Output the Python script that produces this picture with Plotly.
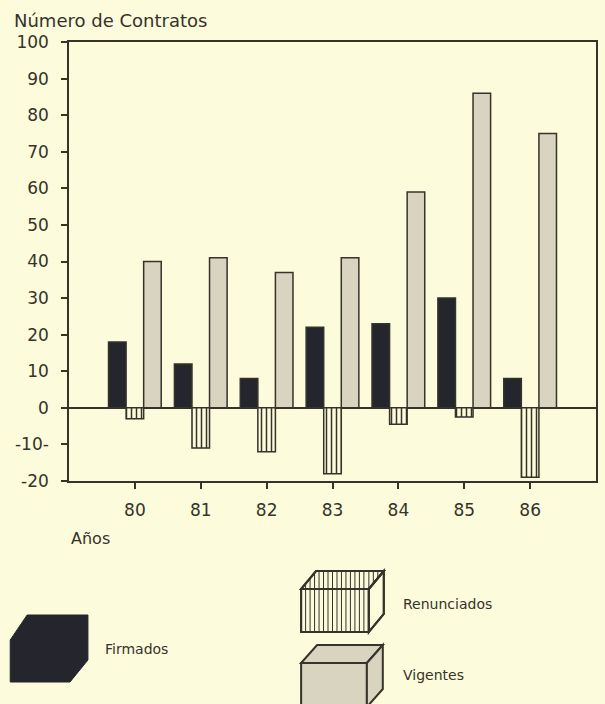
import plotly.graph_objects as go

# ---- data -------------------------------------------------------------
years = [80, 81, 82, 83, 84, 85, 86]
firmados = [18, 12, 8, 22, 23, 30, 8]
renunciados = [-3, -11, -12, -18, -4.5, -2.5, -19]
vigentes = [40, 41, 37, 41, 59, 86, 75]

y_tick_vals = [100, 90, 80, 70, 60, 50, 40, 30, 20, 10, 0, -10, -20]
y_tick_text = ["100", "90", "80", "70", "60", "50", "40", "30", "20", "10", "0", "-10-", "-20"]

series_names = ["Firmados", "Renunciados", "Vigentes"]

# ---- style ------------------------------------------------------------
W, H = 605, 704
M_L, M_R, M_T, M_B = 69, 7, 42, 223
BG = "#fcfbdc"
INK = "#35332a"
DARK = "#24252d"
GREY = "#d8d4bf"
FONT = "DejaVu Sans"

PLOT_W = W - M_L - M_R
PLOT_H = H - M_T - M_B


def px(x):
    """pixel x -> paper x"""
    return (x - M_L) / PLOT_W


def py(y):
    """pixel y -> paper y"""
    return (H - M_B - y) / PLOT_H


fig = go.Figure()

outline = dict(color=INK, width=1.5)

fig.add_trace(go.Bar(
    x=years, y=firmados, name=series_names[0],
    marker=dict(color=DARK, line=outline),
))
fig.add_trace(go.Bar(
    x=years, y=renunciados, name=series_names[1],
    marker=dict(color=BG, line=outline,
                pattern=dict(shape="|", size=5, solidity=0.3,
                             fgcolor=INK, bgcolor=BG, fillmode="replace")),
))
fig.add_trace(go.Bar(
    x=years, y=vigentes, name=series_names[2],
    marker=dict(color=GREY, line=outline),
))

fig.update_layout(
    width=W, height=H,
    margin=dict(l=M_L, r=M_R, t=M_T, b=M_B),
    paper_bgcolor=BG, plot_bgcolor=BG,
    barmode="group", bargap=0.2, bargroupgap=0,
    showlegend=False,
    font=dict(family=FONT, color=INK, size=17),
)

fig.update_xaxes(
    range=[79, 87], tickvals=years, ticktext=[str(v) for v in years],
    showgrid=False, zeroline=False,
    showline=True, linecolor=INK, linewidth=1.5, mirror=True,
    ticks="outside", ticklen=6, tickwidth=1.5, tickcolor=INK,
    ticklabelstandoff=7,
    tickfont=dict(family=FONT, size=17, color=INK),
)
fig.update_yaxes(
    range=[-20, 100], tickvals=y_tick_vals, ticktext=y_tick_text,
    showgrid=False,
    zeroline=True, zerolinecolor=INK, zerolinewidth=1.5,
    showline=True, linecolor=INK, linewidth=1.5, mirror=True,
    ticks="outside", ticklen=6, tickwidth=1.5, tickcolor=INK,
    ticklabelstandoff=9,
    tickfont=dict(family=FONT, size=17, color=INK),
)

# ---- axis titles ------------------------------------------------------
fig.add_annotation(text="Número de Contratos", xref="paper", yref="paper",
                   x=px(12), y=py(21), xanchor="left", yanchor="middle",
                   showarrow=False, font=dict(family=FONT, size=18, color=INK))
fig.add_annotation(text="Años", xref="paper", yref="paper",
                   x=px(69), y=py(538), xanchor="left", yanchor="middle",
                   showarrow=False, font=dict(family=FONT, size=16, color=INK))


# ---- box-shaped key ---------------------------------------------------
def poly(points):
    pts = [f"{px(x):.5f},{py(y):.5f}" for x, y in points]
    return "M " + " L ".join(pts) + " Z"


def add_box(x0, y0, w, h, dx, dy, fill, line_w=2.0):
    """3D box: front face at (x0, y0, w, h), depth offset (dx, -dy)."""
    front = [(x0, y0), (x0 + w, y0), (x0 + w, y0 + h), (x0, y0 + h)]
    top = [(x0, y0), (x0 + dx, y0 - dy), (x0 + w + dx, y0 - dy), (x0 + w, y0)]
    side = [(x0 + w, y0), (x0 + w + dx, y0 - dy), (x0 + w + dx, y0 + h - dy), (x0 + w, y0 + h)]
    for face in (front, top, side):
        fig.add_shape(type="path", path=poly(face), xref="paper", yref="paper",
                      fillcolor=fill, line=dict(color=INK, width=line_w), layer="above")


# Firmados: solid dark block
fig.add_shape(type="path",
              path=poly([(27, 615), (88, 615), (88, 660), (70, 682), (10, 682), (10, 640)]),
              xref="paper", yref="paper", fillcolor=DARK,
              line=dict(color=DARK, width=1), layer="above")

# Renunciados: striped box
rx0, ry0, rw, rh, rdx, rdy = 302, 589, 68, 43, 15, 18
add_box(rx0, ry0, rw, rh, rdx, rdy, BG)
stripe_paths = []
x = rx0 + 4.5
while x < rx0 + rw - 1:
    stripe_paths.append(f"M {px(x):.5f},{py(ry0 + rh):.5f} L {px(x):.5f},{py(ry0):.5f}")
    # continue the stripe over the top face
    top_end = ry0 - rdy if x >= rx0 + rdx else ry0 - (x - rx0) * rdy / rdx
    stripe_paths.append(f"M {px(x):.5f},{py(ry0):.5f} L {px(x):.5f},{py(top_end):.5f}")
    x += 4.5
x = rx0 + rw
while x < rx0 + rw + rdx - 1:
    low = ry0 - (x - rx0 - rw) * rdy / rdx
    stripe_paths.append(f"M {px(x):.5f},{py(low):.5f} L {px(x):.5f},{py(ry0 - rdy):.5f}")
    x += 4.5
fig.add_shape(type="path", path=" ".join(stripe_paths), xref="paper", yref="paper",
              line=dict(color=INK, width=1), layer="above")
add_box(rx0, ry0, rw, rh, rdx, rdy, "rgba(0,0,0,0)")

# Vigentes: grey box
add_box(302, 663, 66, 44, 16, 18, GREY)

key_labels = [(series_names[0], 103, 649), (series_names[1], 402, 604), (series_names[2], 402, 675)]
for label, lx, ly in key_labels:
    fig.add_annotation(text=label, xref="paper", yref="paper", x=px(lx), y=py(ly),
                       xanchor="left", yanchor="middle", showarrow=False,
                       font=dict(family=FONT, size=14, color=INK))

fig.write_html("out.html")
